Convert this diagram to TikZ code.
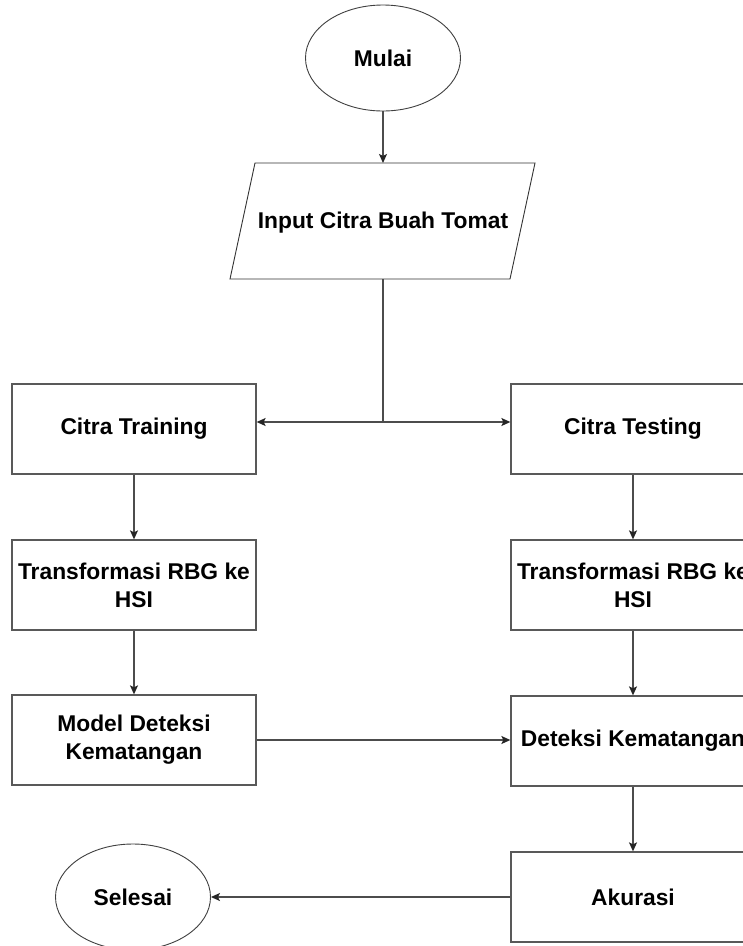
\documentclass[tikz,border=0pt]{standalone}
\usepackage{fontspec}
\setmainfont{Liberation Sans}
\usetikzlibrary{shapes.geometric,arrows.meta}
\begin{document}
\begin{tikzpicture}[x=1pt,y=-1pt,
  every node/.style={font=\fontsize{22.8}{28}\selectfont\bfseries, text=black, align=center},
  proc/.style={draw=black!65, line width=1.3pt, rectangle, minimum width=244pt, minimum height=90pt, inner sep=0pt},
  term/.style={draw=black!75, line width=0.9pt, ellipse, minimum width=155pt, minimum height=106pt, inner sep=0pt},
  conn/.style={draw=black!70, line width=1.3pt, -{Stealth[length=9pt,width=8pt,inset=2pt,color=black!85]}},
  plain/.style={draw=black!70, line width=1.3pt}]
\useasboundingbox (0,0) rectangle (743,946);
\clip (0,0) rectangle (743,946);
\fill[white] (0,0) rectangle (743,946);
% nodes
\node[term] (mulai) at (383,58) {\raisebox{-1.5pt}{Mulai}};
\coordinate (inTop) at (383,163);
\coordinate (inBot) at (383,279);
\draw[draw=black!80, line width=0.9pt] (255,163) -- (535,163) -- (510,279) -- (230,279) -- cycle;
\node (input) at (383,223) {Input Citra Buah Tomat};
\coordinate (split) at (383,422);
\node[proc] (train) at (134,429) {\raisebox{-2pt}{Citra Training}};
\node[proc] (test) at (633,429) {\raisebox{-2pt}{Citra Testing}};
\node[proc] (trl) at (134,585) {Transformasi RBG ke\\HSI};
\node[proc] (trr) at (633,585) {Transformasi RBG ke\\HSI};
\node[proc] (model) at (134,740) {Model Deteksi\\Kematangan};
\node[proc] (det) at (633,741) {Deteksi Kematangan};
\node[proc] (akurasi) at (633,897) {Akurasi};
\node[term] (selesai) at (133,897) {Selesai};
% connectors
\draw[conn] (mulai.south) -- (inTop);
\draw[plain] (inBot) -- (split);
\draw[conn] (split) -- (split -| train.east);
\draw[conn] (split) -- (split -| test.west);
\draw[conn] (train) -- (trl);
\draw[conn] (trl) -- (model);
\draw[conn] (test) -- (trr);
\draw[conn] (trr) -- (det);
\draw[conn] (det) -- (akurasi);
\draw[conn] (model.east) -- (model.east -| det.west);
\draw[conn] (akurasi.west) -- (selesai.east);
\end{tikzpicture}
\end{document}
